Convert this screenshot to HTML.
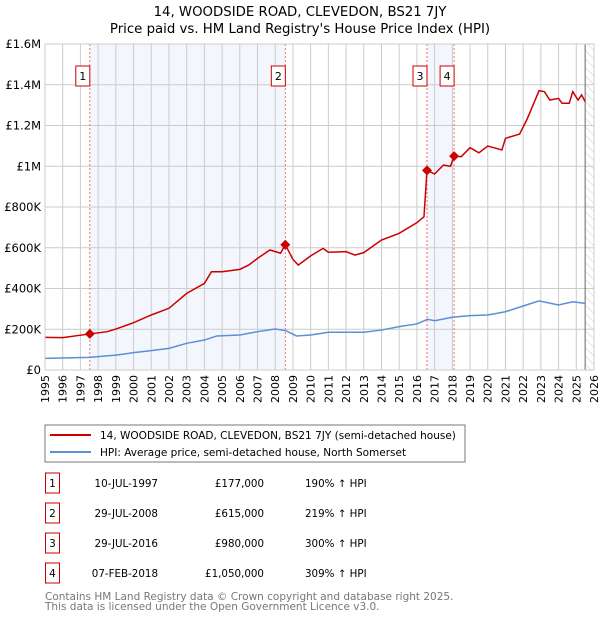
<!DOCTYPE html>
<html><head><meta charset="utf-8"><style>
body{margin:0;background:#fff;font-family:"Liberation Sans","DejaVu Sans",sans-serif}
svg text{font-family:"DejaVu Sans","Liberation Sans",sans-serif}
</style></head><body>
<svg id="c" width="600" height="620" xmlns="http://www.w3.org/2000/svg">
<defs><pattern id="hatch" width="6" height="6" patternUnits="userSpaceOnUse" patternTransform="rotate(-45)"><line x1="0" y1="0" x2="0" y2="6" stroke="#ccc" stroke-width="1"/></pattern></defs>
<text x="300" y="16" text-anchor="middle" font-size="13.3">14, WOODSIDE ROAD, CLEVEDON, BS21 7JY</text>
<text x="300" y="33" text-anchor="middle" font-size="13.3">Price paid vs. HM Land Registry's House Price Index (HPI)</text>
<g id="plot"></g>
<rect x="45" y="425" width="420" height="37" fill="#fff" stroke="#777"/>
<line x1="50" y1="435" x2="91" y2="435" stroke="#cc0000" stroke-width="2"/>
<text x="100" y="439" font-size="10.5">14, WOODSIDE ROAD, CLEVEDON, BS21 7JY (semi-detached house)</text>
<line x1="50" y1="452" x2="91" y2="452" stroke="#5b8fd6" stroke-width="2"/>
<text x="100" y="456" font-size="10.5">HPI: Average price, semi-detached house, North Somerset</text>
<g id="table"></g>
<text x="45" y="600" font-size="10.5" fill="#777">Contains HM Land Registry data © Crown copyright and database right 2025.</text>
<text x="45" y="610" font-size="10.5" fill="#777">This data is licensed under the Open Government Licence v3.0.</text>
</svg>
<script>
const yTicks=[0,200000,400000,600000,800000,1000000,1200000,1400000,1600000];
const yTickLabels=["£0","£200K","£400K","£600K","£800K","£1M","£1.2M","£1.4M","£1.6M"];
const years=[1995,1996,1997,1998,1999,2000,2001,2002,2003,2004,2005,2006,2007,2008,2009,2010,2011,2012,2013,2014,2015,2016,2017,2018,2019,2020,2021,2022,2023,2024,2025,2026];
const hpiT=[1995,1997.5,1999,2000,2001,2002,2003,2004,2004.7,2006,2007,2008,2008.6,2009.2,2010,2011,2013,2014,2015,2016,2016.6,2017,2018,2019,2020,2021,2022,2022.9,2024,2024.8,2025.5];
const hpiV=[57,62,73,85,95,106,131,147,167,172,188,201,193,167,172,185,185,196,213,226,249,242,259,267,270,286,314,339,319,335,327];
const priceT=[1995,1996,1997.53,1998.5,1999,2000,2001,2002,2003,2004,2004.4,2005,2006,2006.5,2007,2007.7,2008.3,2008.57,2009,2009.3,2010,2010.7,2011,2012,2012.5,2013,2014,2015,2016,2016.4,2016.57,2017,2017.5,2017.9,2018.1,2018.5,2019,2019.5,2020,2020.8,2021,2021.8,2022.2,2022.9,2023.2,2023.5,2024,2024.2,2024.6,2024.8,2025.1,2025.3,2025.5];
const priceV=[160,159,177,188,201,232,270,303,376,425,482,482,494,515,548,589,573,615,543,515,560,597,578,581,564,576,638,671,723,752,980,962,1006,1000,1050,1047,1091,1066,1099,1080,1137,1158,1227,1371,1366,1325,1333,1309,1309,1366,1325,1350,1317];
const saleIds=["1","2","3","4"];
const saleT=[1997.53,2008.57,2016.57,2018.1];
const saleV=[177,615,980,1050];
const saleDates=["10-JUL-1997","29-JUL-2008","29-JUL-2016","07-FEB-2018"];
const salePrices=["£177,000","£615,000","£980,000","£1,050,000"];
const saleHpi=["190% ↑ HPI","219% ↑ HPI","300% ↑ HPI","309% ↑ HPI"];
const X0=45,X1=594,Y0=370,Y1=44;
const xs=t=>X0+(t-1995)/(2026-1995)*(X1-X0);
const ys=v=>Y0-v/1600000*(Y0-Y1);
const NS="http://www.w3.org/2000/svg";
const g=document.getElementById('plot');
function mk(tag,at,parent){const e=document.createElementNS(NS,tag);for(const k in at)e.setAttribute(k,at[k]);(parent||g).appendChild(e);return e;}
let e;
e=mk('rect',{x:xs(saleT[0]),y:Y1,width:xs(saleT[1])-xs(saleT[0]),height:Y0-Y1,fill:'#f3f6fd'});


e=mk('rect',{x:xs(saleT[2]),y:Y1,width:xs(saleT[3])-xs(saleT[2]),height:Y0-Y1,fill:'#f3f6fd'});


e=mk('rect',{x:xs(2025.5),y:Y1,width:X1-xs(2025.5),height:Y0-Y1,fill:'url(#hatch)'});


years.forEach(y=>{
 e=mk('line',{x1:xs(y),x2:xs(y),y1:Y1,y2:Y0,stroke:'#ccc','stroke-width':1});
 
 
 e=mk('text',{transform:`translate(${xs(y)+4},375) rotate(-90)`,'text-anchor':'end','font-size':11});
 e.textContent=y;
 
 
});
yTicks.forEach((v,i)=>{
 e=mk('line',{x1:X0,x2:X1,y1:ys(v),y2:ys(v),stroke:'#ccc','stroke-width':1});
 
 
 e=mk('text',{x:X0-4,y:ys(v)+4,'text-anchor':'end','font-size':11.5});
 e.textContent=yTickLabels[i];
 
 
});
e=mk('line',{x1:xs(2025.5),x2:xs(2025.5),y1:Y1,y2:Y0,stroke:'#666','stroke-width':1});


saleT.forEach((t,i)=>{
 e=mk('line',{x1:xs(t),x2:xs(t),y1:Y1,y2:Y0,stroke:'#f07070','stroke-width':1,'stroke-dasharray':'2,2'});
 
 
 e=mk('rect',{x:xs(t)-14,y:66,width:14,height:20,fill:'#fff',stroke:'#cc0000'});
 
 
 e=mk('text',{x:xs(t)-7,y:80,'text-anchor':'middle','font-size':11});
 e.textContent=saleIds[i];
 
 
});
e=mk('polyline',{points:hpiT.map((t,i)=>xs(t)+','+ys(hpiV[i]*1000)).join(' '),fill:'none',stroke:'#5b8fd6','stroke-width':1.5});


e=mk('polyline',{points:priceT.map((t,i)=>xs(t)+','+ys(priceV[i]*1000)).join(' '),fill:'none',stroke:'#cc0000','stroke-width':1.5});


saleT.forEach((t,i)=>{
 const cx=xs(t),cy=ys(saleV[i]*1000);
 e=mk('polygon',{points:`${cx},${cy-5} ${cx+5},${cy} ${cx},${cy+5} ${cx-5},${cy}`,fill:'#cc0000'});
 
 
});
e=mk('rect',{x:X0,y:Y1,width:X1-X0,height:Y0-Y1,fill:'none',stroke:'#ccc'});


const tb=document.getElementById('table');
saleIds.forEach((id,i)=>{
 const cy=483+i*30;
 e=mk('rect',{x:45.5,y:cy-10,width:14,height:20,fill:'#fff',stroke:'#cc0000'},tb);
 
 
 e=mk('text',{x:52.5,y:cy+4,'text-anchor':'middle','font-size':10.5},tb);e.textContent=id;
 
 
 e=mk('text',{x:158,y:cy+4,'text-anchor':'end','font-size':10.3},tb);e.textContent=saleDates[i];
 
 
 e=mk('text',{x:264,y:cy+4,'text-anchor':'end','font-size':10.3},tb);e.textContent=salePrices[i];
 
 
 e=mk('text',{x:305,y:cy+4,'font-size':10.3},tb);e.textContent=saleHpi[i];
 
 
});
</script>
</body></html>
